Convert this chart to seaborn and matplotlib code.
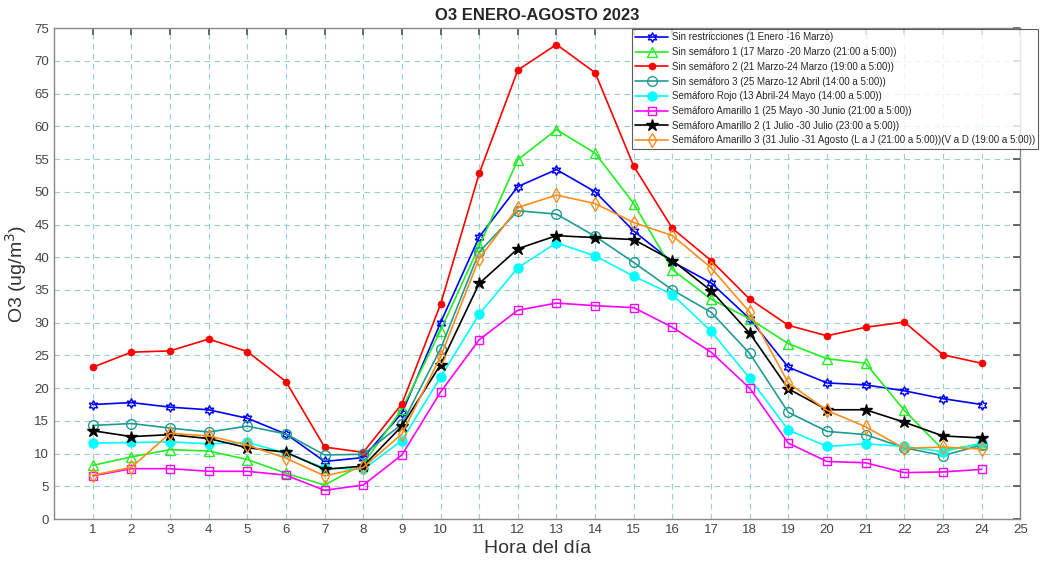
import numpy as np
import pandas as pd
import matplotlib
matplotlib.use("Agg")
import matplotlib.pyplot as plt
import seaborn as sns

hours = list(range(1, 25))

sin_restricciones = [17.5, 17.8, 17.1, 16.7, 15.4, 13.0, 8.8, 9.4, 16.2, 30.0, 43.1, 50.8,
                     53.4, 50.0, 44.0, 39.3, 36.1, 30.6, 23.2, 20.8, 20.5, 19.6, 18.4, 17.5]
sin_semaforo_1 = [8.2, 9.5, 10.6, 10.4, 9.1, 7.0, 5.2, 8.4, 16.8, 28.8, 41.7, 54.9,
                  59.5, 55.9, 48.2, 38.1, 33.6, 30.6, 26.8, 24.5, 23.8, 16.6, 10.6, 11.4]
sin_semaforo_2 = [23.2, 25.5, 25.7, 27.5, 25.6, 21.0, 11.0, 10.2, 17.6, 32.8, 52.8, 68.6,
                  72.5, 68.2, 53.9, 44.4, 39.5, 33.6, 29.6, 28.0, 29.3, 30.1, 25.1, 23.8]
sin_semaforo_3 = [14.3, 14.6, 13.9, 13.3, 14.2, 13.0, 9.8, 9.9, 14.5, 26.0, 40.8, 47.1,
                  46.6, 43.2, 39.2, 35.0, 31.6, 25.3, 16.3, 13.4, 12.9, 10.9, 9.7, 11.3]
semaforo_rojo = [11.6, 11.7, 11.8, 11.5, 11.7, 10.1, 7.8, 7.6, 12.0, 21.7, 31.3, 38.4,
                 42.2, 40.2, 37.1, 34.3, 28.7, 21.5, 13.6, 11.1, 11.5, 11.1, 10.3, 11.6]
amarillo_1 = [6.6, 7.7, 7.7, 7.3, 7.3, 6.7, 4.4, 5.2, 9.8, 19.4, 27.4, 31.9,
              33.0, 32.6, 32.3, 29.3, 25.5, 20.0, 11.6, 8.8, 8.6, 7.1, 7.2, 7.6]
amarillo_2 = [13.5, 12.6, 12.9, 12.3, 10.9, 10.2, 7.6, 8.1, 14.2, 23.6, 36.0, 41.3,
              43.3, 43.0, 42.7, 39.5, 34.9, 28.4, 19.9, 16.7, 16.7, 14.8, 12.7, 12.4]
amarillo_3 = [6.7, 7.9, 13.1, 12.7, 11.3, 9.3, 6.6, 7.9, 13.0, 24.8, 39.8, 47.6,
              49.5, 48.2, 45.3, 43.3, 38.4, 31.6, 20.8, 16.6, 14.1, 10.8, 11.0, 10.7]

labels = [
    "Sin restricciones (1 Enero -16 Marzo)",
    "Sin semáforo 1 (17 Marzo -20 Marzo (21:00 a 5:00))",
    "Sin semáforo 2 (21 Marzo-24 Marzo (19:00 a 5:00))",
    "Sin semáforo 3 (25 Marzo-12 Abril (14:00 a 5:00))",
    "Semáforo Rojo (13 Abril-24 Mayo (14:00 a 5:00))",
    "Semáforo Amarillo 1 (25 Mayo -30 Junio (21:00 a 5:00))",
    "Semáforo Amarillo 2 (1 Julio -30 Julio (23:00 a 5:00))",
    "Semáforo Amarillo 3 (31 Julio -31 Agosto (L a J (21:00 a 5:00))(V a D (19:00 a 5:00))",
]
series = [sin_restricciones, sin_semaforo_1, sin_semaforo_2, sin_semaforo_3,
          semaforo_rojo, amarillo_1, amarillo_2, amarillo_3]

colors = ["#0000ff", "#22ee22", "#ff0000", "#1f9b94", "#00ffff", "#ff00ff", "#000000", "#ff8c1a"]
markers = [(6, 1, 0), "^", "o", "o", "o", "s", "*", "d"]
filled = [False, False, True, False, True, False, True, False]
msizes = [7, 7, 4.5, 7, 6.5, 6, 9, 7]

sns.set_theme(style="white")
plt.rcParams["font.family"] = ["Liberation Sans", "DejaVu Sans"]

fig = plt.figure(figsize=(10.4, 5.63), dpi=100)
ax = fig.add_axes([0.052, 0.078, 0.929, 0.872])

for lab, vals, c, m, f, ms in zip(labels, series, colors, markers, filled, msizes):
    df = pd.DataFrame({"Hora": hours, "O3": vals})
    sns.lineplot(data=df, x="Hora", y="O3", ax=ax, color=c, marker=m, markersize=ms,
                 markerfacecolor=c if f else "none", markeredgecolor=c,
                 markeredgewidth=1.0, linewidth=1.2, label=lab)

ax.set_xlim(0, 25)
ax.set_ylim(0, 75)
ax.set_xticks(range(1, 26))
ax.set_yticks(range(0, 80, 5))
ax.grid(True, linestyle=(0, (5, 4)), color="#8fc9c9", linewidth=0.8, alpha=0.9)
ax.tick_params(axis="both", direction="in", length=5, colors="#555555", labelsize=9.5,
               top=True, right=True, labelcolor="#444444")
for s in ax.spines.values():
    s.set_color("#888888")
    s.set_linewidth(1.0)

ax.set_title("O3 ENERO-AGOSTO 2023", fontsize=12, fontweight="bold", pad=6)
ax.set_xlabel("Hora del día", fontsize=14, color="#333333", labelpad=3)
ax.set_ylabel("O3 (ug/m$^3$)", fontsize=14, color="#333333", labelpad=4)

ax.get_legend().remove()
handles, labs = ax.get_legend_handles_labels()
leg = fig.legend(handles, labs, loc="upper left", bbox_to_anchor=(632 / 1040, 1 - 29 / 563),
                 fontsize=7.05, frameon=True, fancybox=False, borderpad=0.35,
                 labelspacing=0.48, handlelength=3.3, handletextpad=0.4, borderaxespad=0)
leg.get_frame().set_edgecolor("#333333")
leg.get_frame().set_linewidth(0.8)

fig.savefig("out.png", dpi=100)
